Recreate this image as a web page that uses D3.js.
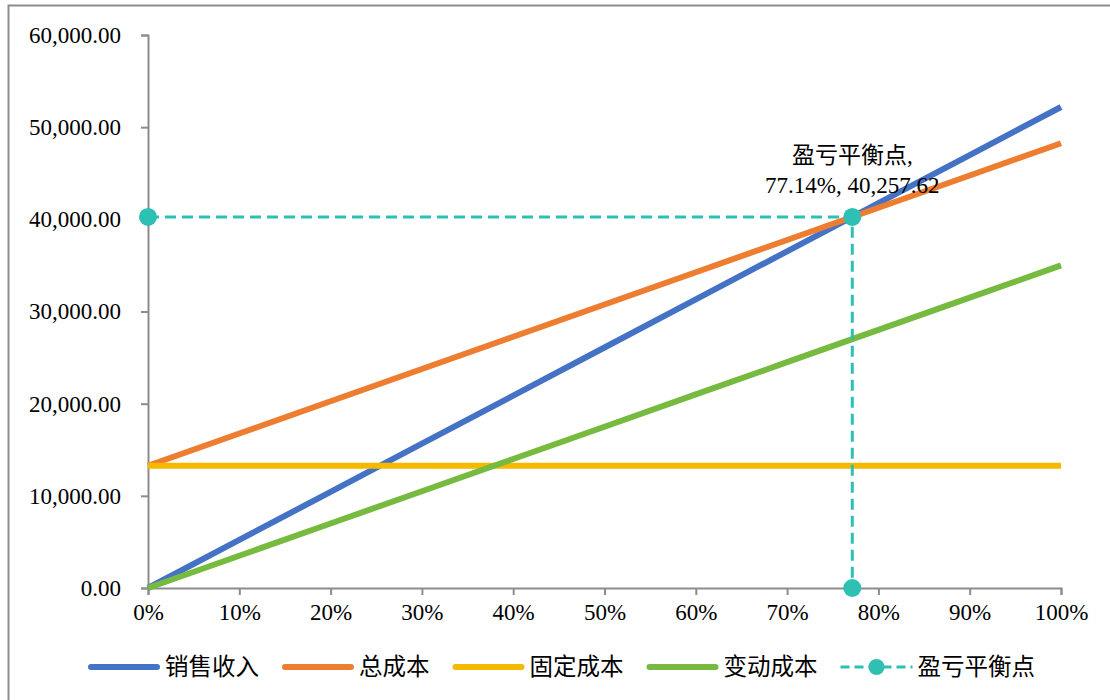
<!DOCTYPE html>
<html>
<head>
<meta charset="utf-8">
<script src="https://cdn.jsdelivr.net/npm/d3@7"></script>
<style>
  body { margin: 0; background: #fff; }
  text { font-family: "Liberation Serif", "Times New Roman", "Noto Sans CJK SC", serif; fill: #000; }
</style>
</head>
<body>
<div id="chart"></div>
<script>
// categories (output level) and series values
const levels = [0, 0.1, 0.2, 0.3, 0.4, 0.5, 0.6, 0.7, 0.8, 0.9, 1.0];
const sales = [0, 5218.8, 10437.6, 15656.4, 20875.2, 26094, 31312.8, 36531.6, 41750.4, 46969.2, 52188];
const totalCost = [13259, 16759, 20259, 23759, 27259, 30759, 34259, 37759, 41259, 44759, 48259];
const fixedCost = [13259, 13259, 13259, 13259, 13259, 13259, 13259, 13259, 13259, 13259, 13259];
const varCost = [0, 3500, 7000, 10500, 14000, 17500, 21000, 24500, 28000, 31500, 35000];
const breakEvenX = [0, 0.7714, 0.7714];
const breakEvenY = [40257.62, 40257.62, 0];
const yTicks = [0, 10000, 20000, 30000, 40000, 50000, 60000];
const seriesNames = ["销售收入", "总成本", "固定成本", "变动成本", "盈亏平衡点"];
const colors = ["#4472C4", "#ED7D31", "#F5BA00", "#76BA40", "#2EC0B2"];

const W = 1110, H = 700;
const margin = { top: 35, right: 49, bottom: 112, left: 148 };
const width = W - margin.left - margin.right,
  height = H - margin.top - margin.bottom;

const svg = d3.select("#chart").append("svg").attr("width", W).attr("height", H);

// outer chart border
svg.append("rect")
  .attr("x", 8.5).attr("y", 5.5)
  .attr("width", W).attr("height", H)
  .attr("fill", "none").attr("stroke", "#8c8c8c").attr("stroke-width", 2);

const g = svg.append("g").attr("transform", `translate(${margin.left},${margin.top})`);

const x = d3.scaleLinear().domain([0, 1]).range([0, width]);
const y = d3.scaleLinear().domain([0, 60000]).range([height, 0]);

// axes
const xAxis = g.append("g")
  .attr("transform", `translate(0,${height})`)
  .call(d3.axisBottom(x).tickValues(levels).tickFormat(d3.format(".0%")).tickSizeOuter(0).tickSize(7).tickPadding(9));
const yAxis = g.append("g")
  .call(d3.axisLeft(y).tickValues(yTicks).tickFormat(d3.format(",.2f")).tickSizeOuter(0).tickSize(7).tickPadding(20));
[xAxis, yAxis].forEach((a) => {
  a.selectAll("path, line").attr("stroke", "#8c8c8c").attr("stroke-width", 2);
  a.selectAll("text").attr("font-size", 23)
    .attr("font-family", "'Liberation Serif', 'Times New Roman', serif");
});

// series lines
const seriesData = [sales, totalCost, fixedCost, varCost];
const line = d3.line().x((d, i) => x(levels[i])).y((d) => y(d));
seriesData.forEach((vals, k) => {
  g.append("path")
    .datum(vals)
    .attr("d", line)
    .attr("fill", "none")
    .attr("stroke", colors[k])
    .attr("stroke-width", 6);
});

// break-even dashed guide + markers
const bePts = breakEvenX.map((v, i) => [v, breakEvenY[i]]);
g.append("path")
  .datum(bePts)
  .attr("d", d3.line().x((d) => x(d[0])).y((d) => y(d[1])))
  .attr("fill", "none")
  .attr("stroke", colors[4])
  .attr("stroke-width", 3)
  .attr("stroke-dasharray", "11,6");
g.selectAll(".be")
  .data(bePts)
  .join("circle")
  .attr("cx", (d) => x(d[0]))
  .attr("cy", (d) => y(d[1]))
  .attr("r", 9)
  .attr("fill", colors[4]);

// data label
const lab = g.append("text")
  .attr("text-anchor", "middle")
  .attr("font-size", 23);
lab.append("tspan")
  .attr("x", x(breakEvenX[1])).attr("y", y(breakEvenY[0]) - 54)
  .text("盈亏平衡点,");
lab.append("tspan")
  .attr("x", x(breakEvenX[1])).attr("y", y(breakEvenY[0]) - 24)
  .text(d3.format(".2%")(breakEvenX[1]) + ", " + d3.format(",.2f")(breakEvenY[0]));

// legend
const legend = svg.append("g").attr("transform", "translate(88,667)");
let lx = 0;
seriesNames.forEach((name, i) => {
  const item = legend.append("g").attr("transform", `translate(${lx},0)`);
  if (i < 4) {
    item.append("line")
      .attr("x1", 3).attr("x2", 69).attr("y1", 0).attr("y2", 0)
      .attr("stroke", colors[i]).attr("stroke-width", 6).attr("stroke-linecap", "round");
  } else {
    item.append("line")
      .attr("x1", 0).attr("x2", 72).attr("y1", 0).attr("y2", 0)
      .attr("stroke", colors[i]).attr("stroke-width", 3).attr("stroke-dasharray", "9,5");
    item.append("circle").attr("cx", 36).attr("cy", 0).attr("r", 8).attr("fill", colors[i]);
  }
  const t = item.append("text")
    .attr("x", 77).attr("y", 0).attr("dy", "0.36em")
    .attr("font-size", 23.5)
    .text(name);
  lx += 77 + t.node().getComputedTextLength() + 23;
});
</script>
</body>
</html>
